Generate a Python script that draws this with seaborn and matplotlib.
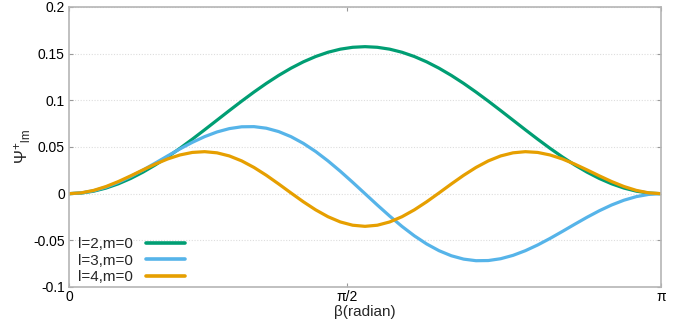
import numpy as np
import pandas as pd
import matplotlib
matplotlib.use("Agg")
import matplotlib.pyplot as plt
import seaborn as sns

# beta sample positions (k*pi/48, k = 0..48)
beta = [0.0000, 0.0654, 0.1309, 0.1963, 0.2618, 0.3272, 0.3927, 0.4581, 0.5236,
        0.5890, 0.6545, 0.7199, 0.7854, 0.8508, 0.9163, 0.9817, 1.0472,
        1.1126, 1.1781, 1.2435, 1.3090, 1.3744, 1.4399, 1.5053, 1.5708,
        1.6362, 1.7017, 1.7671, 1.8326, 1.8980, 1.9635, 2.0289, 2.0944,
        2.1598, 2.2253, 2.2907, 2.3562, 2.4216, 2.4871, 2.5525, 2.6180,
        2.6834, 2.7489, 2.8143, 2.8798, 2.9452, 3.0107, 3.0761, 3.1416]

psi_l2 = [0.0, 0.00067, 0.00268, 0.00599, 0.01055, 0.01627, 0.02307, 0.03081,
          0.03938, 0.04861, 0.05837, 0.06847, 0.07875, 0.08903, 0.09913,
          0.10889, 0.11813, 0.12669, 0.13443, 0.14123, 0.14695, 0.15151,
          0.15482, 0.15683, 0.15750,
          0.15683, 0.15482, 0.15151, 0.14695, 0.14123, 0.13443, 0.12669,
          0.11813, 0.10889, 0.09913, 0.08903, 0.07875, 0.06847, 0.05837,
          0.04861, 0.03938, 0.03081, 0.02307, 0.01627, 0.01055, 0.00599,
          0.00268, 0.00067, 0.0]

psi_l3 = [0.0, 0.00080, 0.00316, 0.00698, 0.01210, 0.01830, 0.02530, 0.03281,
          0.04049, 0.04799, 0.05498, 0.06112, 0.06611, 0.06970, 0.07165,
          0.07182, 0.07013, 0.06653, 0.06108, 0.05390, 0.04516, 0.03509,
          0.02399, 0.01218, 0.0,
          -0.01218, -0.02399, -0.03509, -0.04516, -0.05390, -0.06108,
          -0.06653, -0.07013, -0.07182, -0.07165, -0.06970, -0.06611,
          -0.06112, -0.05498, -0.04799, -0.04049, -0.03281, -0.02530,
          -0.01830, -0.01210, -0.00698, -0.00316, -0.00080, 0.0]

psi_l4 = [0.0, 0.00089, 0.00351, 0.00764, 0.01297, 0.01908, 0.02550, 0.03170,
          0.03719, 0.04148, 0.04418, 0.04499, 0.04375, 0.04042, 0.03512,
          0.02808, 0.01969, 0.01040, 0.00075, -0.00869, -0.01734, -0.02470,
          -0.03030, -0.03381, -0.03500,
          -0.03381, -0.03030, -0.02470, -0.01734, -0.00869, 0.00075, 0.01040,
          0.01969, 0.02808, 0.03512, 0.04042, 0.04375, 0.04499, 0.04418,
          0.04148, 0.03719, 0.03170, 0.02550, 0.01908, 0.01297, 0.00764,
          0.00351, 0.00089, 0.0]

series_names = ["l=2,m=0", "l=3,m=0", "l=4,m=0"]
colors = ["#009E73", "#56B4E9", "#E69F00"]

xtick_pos = [0.0, 1.475, 3.1416]
xtick_labels = ["0", "π/2", "π"]
ytick_pos = [0.2, 0.15, 0.1, 0.05, 0.0, -0.05, -0.1]
ytick_labels = ["0.2", "0.15", "0.1", "0.05", "0", "-0.05", "-0.1"]

n = len(beta)
df = pd.DataFrame({
    "beta": beta * 3,
    "psi": psi_l2 + psi_l3 + psi_l4,
    "series": [series_names[0]] * n + [series_names[1]] * n + [series_names[2]] * n,
})

sns.set_theme(style="white")
plt.rcParams["font.family"] = ["Liberation Sans", "DejaVu Sans"]
plt.rcParams["mathtext.default"] = "regular"
plt.rcParams["mathtext.fontset"] = "custom"
plt.rcParams["mathtext.rm"] = "Liberation Sans"
plt.rcParams["mathtext.it"] = "Liberation Sans"

fig = plt.figure(figsize=(6.89, 3.32), dpi=100)
ax = fig.add_axes([69 / 689, 1 - 287 / 332, 592 / 689, 280 / 332])

sns.lineplot(data=df, x="beta", y="psi", hue="series", palette=colors,
             linewidth=2.3, ax=ax, sort=False)

ax.set_xlim(0, 3.1416)
ax.set_ylim(-0.1, 0.2)
ax.set_xticks(xtick_pos)
ax.set_xticklabels(xtick_labels, fontsize=10)
ax.set_yticks(ytick_pos)
ax.set_yticklabels(ytick_labels, fontsize=10)
ax.tick_params(direction="in", length=3, width=0.8, color="#999999",
               top=True, right=True, bottom=True, left=True, pad=2,
               labelcolor="black")
ax.tick_params(axis="y", pad=3)

ax.grid(axis="y", linestyle=(0, (1, 1.5)), color="#dddddd", linewidth=0.8)
ax.grid(axis="x", visible=False)
for s in ax.spines.values():
    s.set_color("#b5b5b5")
    s.set_linewidth(1.2)

ax.set_xlabel("β(radian)", fontsize=11, labelpad=1)
ax.set_ylabel(r"$\Psi^{+}{}_{lm}$", fontsize=12, labelpad=0)

leg = ax.legend(loc="lower left", bbox_to_anchor=(0.016, 0.01), frameon=False,
                markerfirst=False, fontsize=11, handlelength=2.6,
                handletextpad=0.8, labelspacing=0.16, borderpad=0,
                borderaxespad=0)
for line in leg.get_lines():
    line.set_linewidth(2.6)

fig.savefig("out.png", dpi=100)
